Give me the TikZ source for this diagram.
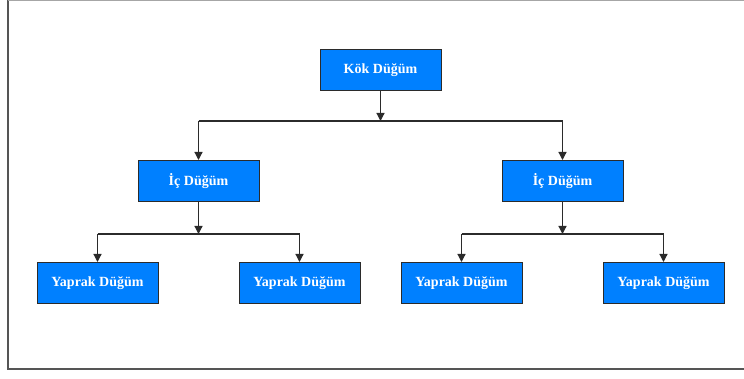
\documentclass[tikz,border=0pt]{standalone}
\usepackage{fontspec}
\setmainfont{Liberation Serif}
\usetikzlibrary{arrows.meta}
\definecolor{boxblue}{HTML}{0080FF}
\definecolor{edge}{HTML}{2B2B2B}
\tikzset{
  treebox/.style={draw=edge, line width=1pt, fill=boxblue, text=white,
    minimum width=121pt, minimum height=41pt, inner sep=0pt,
    font=\fontsize{14}{16}\selectfont\bfseries},
  link/.style={draw=edge, line width=1.2pt},
  linkarrow/.style={link, -{Triangle[length=8pt,width=8pt]}},
}
\begin{document}
\begin{tikzpicture}[x=1pt,y=-1pt]
  \useasboundingbox (0,0) rectangle (744,379);
  % outer frame
  \draw[draw=edge!80, line width=2pt] (8,0) -- (8,369) -- (760,369);
  \draw[draw=gray!70, line width=1.5pt] (8,0) -- (760,0);

  % nodes
  \node[treebox] (root) at (380.5,70) {Kök Düğüm};
  \node[treebox] (inL)  at (198.5,181) {İç Düğüm};
  \node[treebox] (inR)  at (562.5,181) {İç Düğüm};
  \node[treebox] (l1) at (97.5,283) {Yaprak Düğüm};
  \node[treebox] (l2) at (299.5,283) {Yaprak Düğüm};
  \node[treebox] (l3) at (461.5,283) {Yaprak Düğüm};
  \node[treebox] (l4) at (663.5,283) {Yaprak Düğüm};

  % junction points
  \coordinate (j0)  at (380.5,121);
  \coordinate (j0L) at (198.5,121);
  \coordinate (j0R) at (562.5,121);
  \coordinate (j1)  at (198.5,234);
  \coordinate (j1L) at (97.5,234);
  \coordinate (j1R) at (299.5,234);
  \coordinate (j2)  at (562.5,234);
  \coordinate (j2L) at (461.5,234);
  \coordinate (j2R) at (663.5,234);

  % root level
  \draw[linkarrow] (root.south) -- (j0);
  \draw[link] (j0L) -- (j0R);
  \draw[linkarrow] (j0L) -- (inL.north);
  \draw[linkarrow] (j0R) -- (inR.north);

  % left subtree
  \draw[linkarrow] (inL.south) -- (j1);
  \draw[link] (j1L) -- (j1R);
  \draw[linkarrow] (j1L) -- (l1.north);
  \draw[linkarrow] (j1R) -- (l2.north);

  % right subtree
  \draw[linkarrow] (inR.south) -- (j2);
  \draw[link] (j2L) -- (j2R);
  \draw[draw=edge, line width=2pt] (532,234) -- (593,234);
  \draw[linkarrow] (j2L) -- (l3.north);
  \draw[linkarrow] (j2R) -- (l4.north);
\end{tikzpicture}
\end{document}
